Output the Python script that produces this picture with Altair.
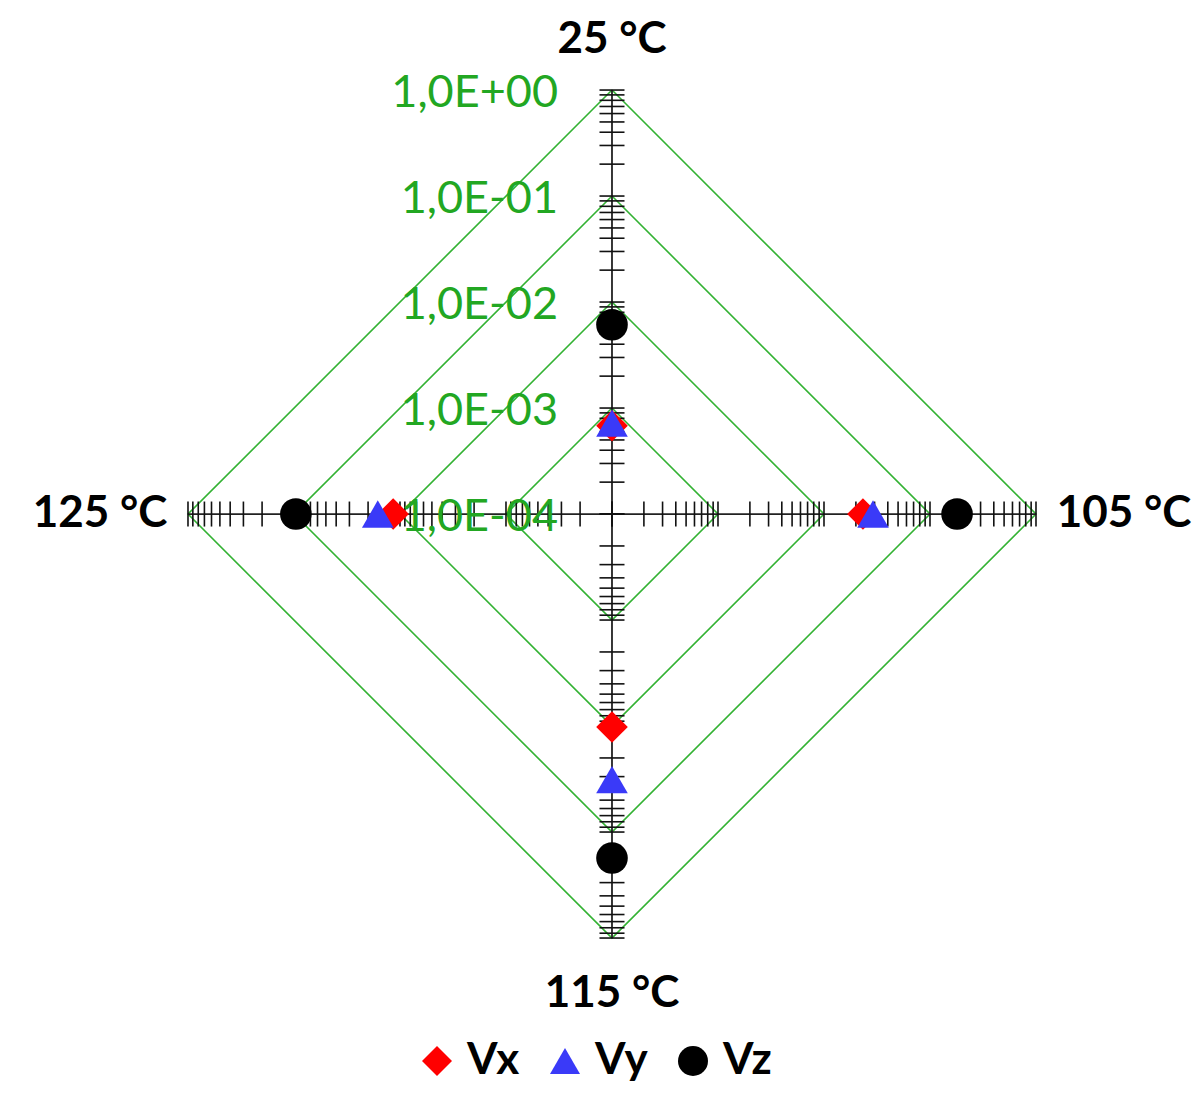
import altair as alt
import pandas as pd
import numpy as np

# ---------------- data ----------------
categories = ["25 °C", "105 °C", "115 °C", "125 °C"]
angles_deg = [0, 90, 180, 270]          # clockwise from top
series = ["Vx", "Vy", "Vz"]
vx = [6.8e-4, 0.0233, 0.0102, 0.0116]
vy = [7.2e-4, 0.029, 0.032, 0.0162]
vz = [6.1e-3, 0.18, 0.176, 0.096]
decade_values = [1e-4, 1e-3, 1e-2, 1e-1, 1e0]
decade_labels = ["1,0E-04", "1,0E-03", "1,0E-02", "1,0E-01", "1,0E+00"]
r_min = 1e-4

# ---------------- tables ----------------
pts = pd.DataFrame(
    [
        {"cat": c, "ang": a, "series": s, "v": v}
        for s, vals in zip(series, [vx, vy, vz])
        for c, a, v in zip(categories, angles_deg, vals)
    ]
)

grid = pd.DataFrame(
    [
        {"dec": str(d), "v": d, "ang": a, "ord": i}
        for d in decade_values[1:]
        for i, a in enumerate(angles_deg + [360])
    ]
)

tick_vals = [k * d for d in decade_values[:-1] for k in range(1, 10)] + [decade_values[-1]]
ticks = pd.DataFrame([{"ang": a, "v": t} for a in angles_deg for t in tick_vals])

axes_df = pd.DataFrame({"ang": angles_deg, "v": [decade_values[-1]] * 4})
dec_df = pd.DataFrame({"lab": decade_labels, "v": decade_values})
cat_df = pd.DataFrame({"cat": categories, "ang": angles_deg})

R = "log(datum.v/%g)/LN10" % r_min
SIN = "sin(datum.ang*PI/180)"
COS = "cos(datum.ang*PI/180)"
H = 0.118  # half tick length in decade units

xs = alt.Scale(domain=[-5.698, 5.434], nice=False, zero=False)
ys = alt.Scale(domain=[-5.377, 4.774], nice=False, zero=False)

gridc = "#33b233"

grid_layer = (
    alt.Chart(grid)
    .transform_calculate(r=R)
    .transform_calculate(x=f"datum.r*{SIN}", y=f"datum.r*{COS}")
    .mark_line(color=gridc, strokeWidth=1.6)
    .encode(
        x=alt.X("x:Q", scale=xs, axis=None),
        y=alt.Y("y:Q", scale=ys, axis=None),
        detail="dec:N",
        order="ord:Q",
    )
)

axis_layer = (
    alt.Chart(axes_df)
    .transform_calculate(r=R)
    .transform_calculate(x2=f"datum.r*{SIN}", y2=f"datum.r*{COS}", z="0")
    .mark_rule(color="#222222", strokeWidth=1.8)
    .encode(
        x=alt.X("z:Q", scale=xs, axis=None),
        y=alt.Y("z:Q", scale=ys, axis=None),
        x2="x2:Q",
        y2="y2:Q",
    )
)

tick_layer = (
    alt.Chart(ticks)
    .transform_calculate(r=R)
    .transform_calculate(
        xa=f"datum.r*{SIN} - {H}*{COS}",
        xb=f"datum.r*{SIN} + {H}*{COS}",
        ya=f"datum.r*{COS} + {H}*{SIN}",
        yb=f"datum.r*{COS} - {H}*{SIN}",
    )
    .mark_rule(color="#111111", strokeWidth=1.6)
    .encode(
        x=alt.X("xa:Q", scale=xs, axis=None),
        y=alt.Y("ya:Q", scale=ys, axis=None),
        x2="xb:Q",
        y2="yb:Q",
    )
)

leg = alt.Legend(
    title=None,
    orient="none",
    direction="horizontal",
    legendX=407,
    legendY=1031,
    padding=0,
)

point_layer = (
    alt.Chart(pts)
    .transform_calculate(r=R)
    .transform_calculate(x=f"datum.r*{SIN}", y=f"datum.r*{COS}")
    .mark_point(filled=True, size=1000, opacity=1, strokeWidth=0)
    .encode(
        x=alt.X("x:Q", scale=xs, axis=None),
        y=alt.Y("y:Q", scale=ys, axis=None),
        color=alt.Color(
            "series:N",
            scale=alt.Scale(domain=series, range=["#ff0000", "#3a3af8", "#000000"]),
            legend=leg,
        ),
        shape=alt.Shape(
            "series:N",
            scale=alt.Scale(domain=series, range=["diamond", "triangle-up", "circle"]),
            legend=leg,
        ),
    )
)

dec_layer = (
    alt.Chart(dec_df)
    .transform_calculate(r=R, z="0")
    .mark_text(
        align="right", baseline="middle", dx=-54, dy=3, font="Lato", fontSize=45, color="#22a722"
    )
    .encode(
        x=alt.X("z:Q", scale=xs, axis=None),
        y=alt.Y("r:Q", scale=ys, axis=None),
        text="lab:N",
    )
)

cat_layer = (
    alt.Chart(cat_df)
    .transform_calculate(x=f"4.83*{SIN}", y=f"(datum.ang == 0 ? 4.47 : 4.53)*{COS}")
    .mark_text(
        align="center", baseline="middle", font="Lato", fontSize=44, fontWeight="bold", color="#000000"
    )
    .encode(
        x=alt.X("x:Q", scale=xs, axis=None),
        y=alt.Y("y:Q", scale=ys, axis=None),
        text="cat:N",
    )
)

chart = (
    alt.layer(grid_layer, axis_layer, tick_layer, point_layer, dec_layer, cat_layer)
    .properties(width=1180, height=1076, padding=0)
    .configure_view(stroke=None)
    .configure_legend(
        labelFont="Lato",
        labelFontSize=44,
        labelFontWeight="bold",
        labelColor="#000000",
        symbolSize=900,
        symbolStrokeWidth=0,
        labelOffset=8,
        columnPadding=23,
        symbolOpacity=1,
    )
)

chart.save("out.html", embed_options={"renderer": "svg", "actions": False})
